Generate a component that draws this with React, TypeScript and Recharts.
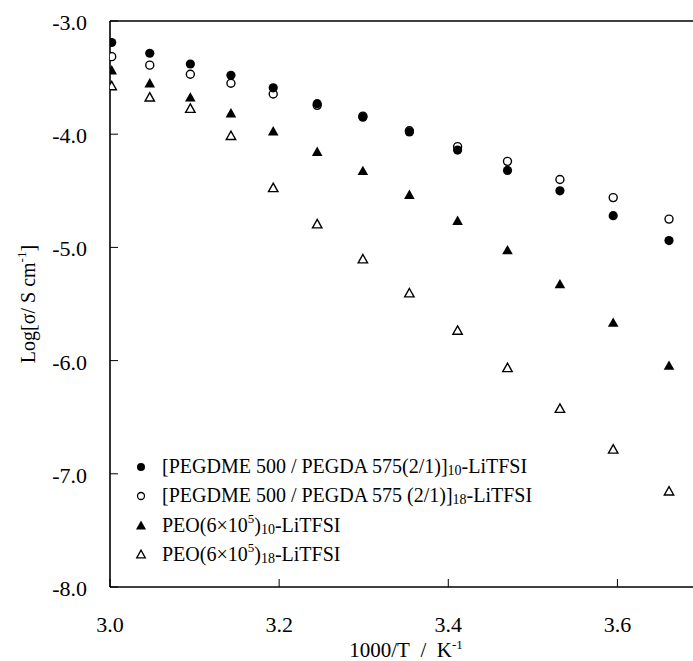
import React from "react";
import { ScatterChart, Scatter, XAxis, YAxis, ReferenceLine, Legend, Label } from "recharts";

const FONT = '"Liberation Serif", "Times New Roman", serif';

// 1000/T for T = 60 ... 0 °C in 5 °C steps
const invTemp = [3.002, 3.047, 3.095, 3.143, 3.193, 3.245, 3.299, 3.354, 3.411, 3.47, 3.532, 3.595, 3.661];

// log conductivity per electrolyte
const gel10 = [-3.19, -3.285, -3.38, -3.48, -3.59, -3.73, -3.85, -3.98, -4.14, -4.32, -4.5, -4.72, -4.94];
const gel18 = [-3.315, -3.39, -3.47, -3.55, -3.645, -3.745, -3.84, -3.97, -4.11, -4.24, -4.4, -4.56, -4.75];
const peo10 = [-3.43, -3.545, -3.67, -3.81, -3.97, -4.15, -4.32, -4.53, -4.76, -5.02, -5.32, -5.66, -6.04];
const peo18 = [-3.57, -3.67, -3.77, -4.01, -4.47, -4.79, -5.1, -5.4, -5.73, -6.06, -6.42, -6.78, -7.15];

const xTicks = [3.0, 3.2, 3.4, 3.6];
const yTicks = [-3, -4, -5, -6, -7, -8];

const toPoints = (ys: number[]) => invTemp.map((x, i) => ({ x, y: ys[i] }));

// marker shapes
const FilledCircle = (p: any) => <circle cx={p.cx} cy={p.cy} r={4.6} fill="#000" />;
const OpenCircle = (p: any) => (
  <circle cx={p.cx} cy={p.cy} r={4} fill="#fff" stroke="#000" strokeWidth={1.4} />
);
const triPath = (cx: number, cy: number, w: number, h: number) =>
  `M${cx},${cy - h / 2}L${cx + w / 2},${cy + h / 2}L${cx - w / 2},${cy + h / 2}Z`;
const FilledTriangle = (p: any) => <path d={triPath(p.cx, p.cy, 10.6, 9.4)} fill="#000" />;
const OpenTriangle = (p: any) => (
  <path d={triPath(p.cx, p.cy, 9.4, 8.4)} fill="#fff" stroke="#000" strokeWidth={1.4} />
);

const Y_MARGIN = 23;
const X_MARGIN = 10;

const YTick = (props: any) => {
  const { x, y, payload } = props;
  const axisX = x + Y_MARGIN;
  return (
    <g>
      <line x1={axisX} x2={axisX + 8} y1={y} y2={y} stroke="#000" strokeWidth={1} />
      <text x={x} y={y + 9} textAnchor="end" fontFamily={FONT} fontSize={22} fill="#000">
        {Number(payload.value).toFixed(1)}
      </text>
    </g>
  );
};

const XTick = (props: any) => {
  const { x, y, payload } = props;
  const axisY = y - X_MARGIN;
  return (
    <g>
      <line x1={x} x2={x} y1={axisY} y2={axisY - 8} stroke="#000" strokeWidth={1} />
      <text x={x} y={axisY + 45} textAnchor="middle" fontFamily={FONT} fontSize={22} fill="#000">
        {Number(payload.value).toFixed(1)}
      </text>
    </g>
  );
};

const XLabel = (props: any) => {
  const vb = props.viewBox;
  const cx = vb.x + vb.width / 2;
  return (
    <text x={cx} y={vb.y + 70} textAnchor="middle" fontFamily={FONT} fontSize={21} fill="#000">
      {"1000/T\u00a0\u00a0/\u00a0\u00a0K"}
      <tspan dy={-8} fontSize={13}>-1</tspan>
    </text>
  );
};

const YLabel = (props: any) => {
  const vb = props.viewBox;
  const cx = 35;
  const cy = vb.y + vb.height / 2;
  return (
    <text
      x={cx}
      y={cy}
      transform={`rotate(-90, ${cx}, ${cy})`}
      textAnchor="middle"
      fontFamily={FONT}
      fontSize={20}
      fill="#000"
    >
      {"Log[\u03c3/ S cm"}
      <tspan dy={-9} fontSize={13}>-1</tspan>
      <tspan dy={9}>]</tspan>
    </text>
  );
};

const sub = { fontSize: 14, verticalAlign: -2 } as React.CSSProperties;
const sup = { fontSize: 13, verticalAlign: 9 } as React.CSSProperties;

const legendRows = [
  {
    marker: "filledCircle",
    label: (
      <>
        [PEGDME 500 / PEGDA 575(2/1)]<span style={sub}>10</span>-LiTFSI
      </>
    ),
  },
  {
    marker: "openCircle",
    label: (
      <>
        [PEGDME 500 / PEGDA 575 (2/1)]<span style={sub}>18</span>-LiTFSI
      </>
    ),
  },
  {
    marker: "filledTriangle",
    label: (
      <>
        PEO(6×10<span style={sup}>5</span>)<span style={sub}>10</span>-LiTFSI
      </>
    ),
  },
  {
    marker: "openTriangle",
    label: (
      <>
        PEO(6×10<span style={sup}>5</span>)<span style={sub}>18</span>-LiTFSI
      </>
    ),
  },
];

const LegendMarker = ({ kind }: { kind: string }) => (
  <svg width={12} height={12} style={{ display: "block" }}>
    {kind === "filledCircle" && <circle cx={6} cy={6} r={4} fill="#000" />}
    {kind === "openCircle" && <circle cx={6} cy={6} r={3.5} fill="#fff" stroke="#000" strokeWidth={1.3} />}
    {kind === "filledTriangle" && <path d={triPath(6, 6, 10, 9)} fill="#000" />}
    {kind === "openTriangle" && <path d={triPath(6, 6, 8.6, 7.8)} fill="#fff" stroke="#000" strokeWidth={1.3} />}
  </svg>
);

const LegendContent = () => (
  <div style={{ fontFamily: FONT, fontSize: 20, color: "#000" }}>
    {legendRows.map((r) => (
      <div key={r.marker} style={{ display: "flex", alignItems: "center", height: 29, whiteSpace: "nowrap" }}>
        <div style={{ width: 27 }}>
          <LegendMarker kind={r.marker} />
        </div>
        <div>{r.label}</div>
      </div>
    ))}
  </div>
);

export default function App() {
  return (
    <div
      style={{
        position: "absolute",
        left: 0,
        top: 0,
        width: 693,
        height: 661,
        overflow: "hidden",
        background: "#fff",
      }}
    >
      <ScatterChart width={702} height={661} margin={{ top: 21, right: 0, bottom: 44, left: 0 }}>
        <XAxis
          type="number"
          dataKey="x"
          domain={[3.0, 3.7]}
          ticks={xTicks}
          height={30}
          tickSize={0}
          tickMargin={X_MARGIN}
          tickLine={false}
          tick={<XTick />}
          axisLine={{ stroke: "#000", strokeWidth: 1.6 }}
          allowDataOverflow
        >
          <Label content={<XLabel />} />
        </XAxis>
        <YAxis
          type="number"
          dataKey="y"
          domain={[-8, -3]}
          ticks={yTicks}
          width={110}
          tickSize={0}
          tickMargin={Y_MARGIN}
          tickLine={false}
          tick={<YTick />}
          axisLine={{ stroke: "#000", strokeWidth: 1.6 }}
          allowDataOverflow
        >
          <Label content={<YLabel />} />
        </YAxis>
        <ReferenceLine y={-3} stroke="#000" strokeWidth={1.6} />
        <Legend
          layout="horizontal"
          verticalAlign="middle"
          align="center"
          content={<LegendContent />}
          wrapperStyle={{ left: 135, top: 452, width: 460, height: 120 }}
        />
        <Scatter name="gel18" data={toPoints(gel18)} shape={<OpenCircle />} isAnimationActive={false} />
        <Scatter name="gel10" data={toPoints(gel10)} shape={<FilledCircle />} isAnimationActive={false} />
        <Scatter name="peo10" data={toPoints(peo10)} shape={<FilledTriangle />} isAnimationActive={false} />
        <Scatter name="peo18" data={toPoints(peo18)} shape={<OpenTriangle />} isAnimationActive={false} />
      </ScatterChart>
    </div>
  );
}
